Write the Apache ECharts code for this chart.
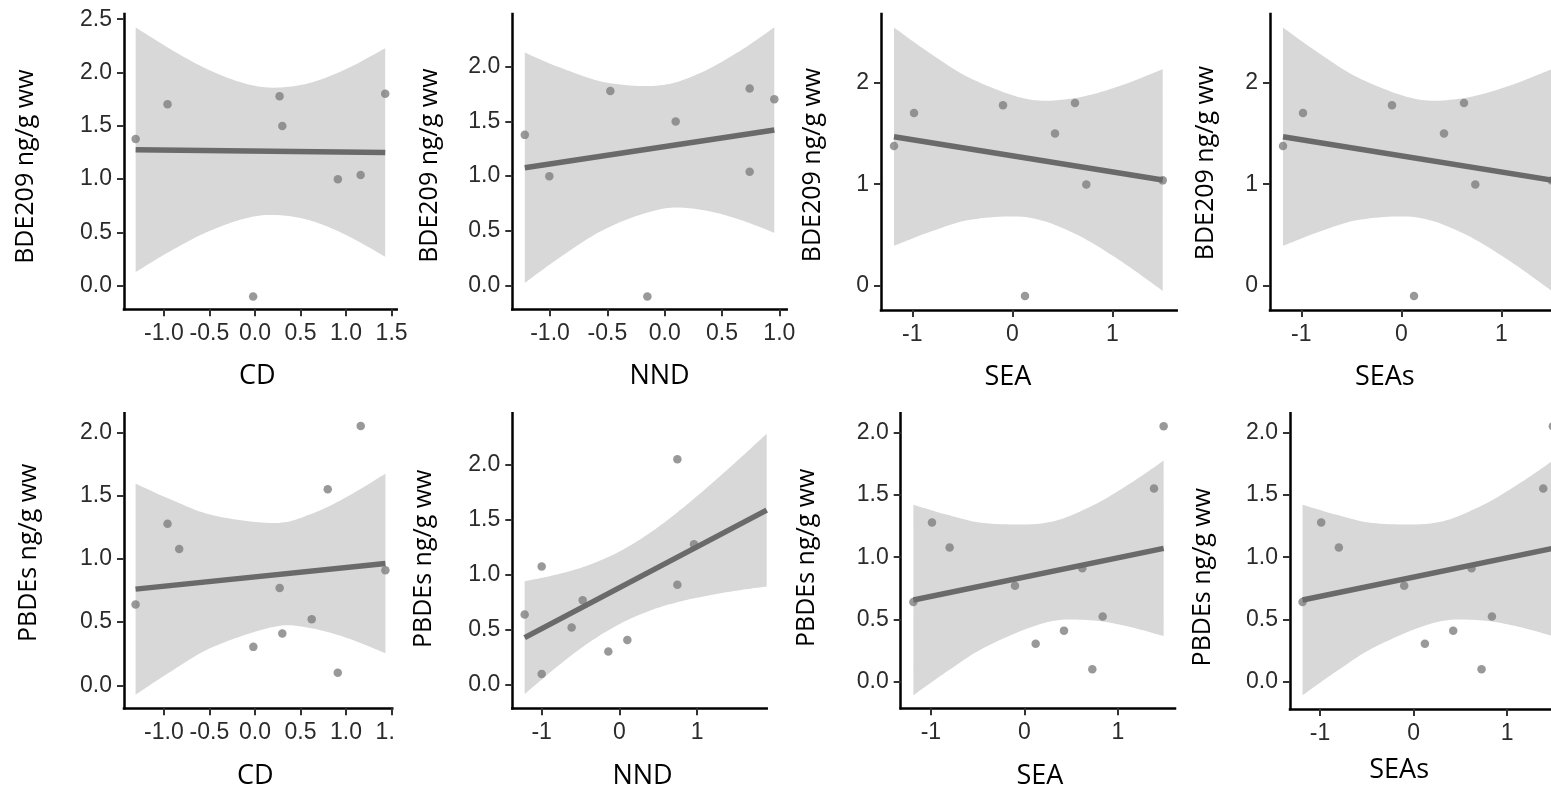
<!DOCTYPE html>
<html>
<head>
<meta charset="utf-8">
<script src="https://cdn.jsdelivr.net/npm/echarts@6/dist/echarts.min.js"></script>
<style>
html,body{margin:0;padding:0;background:#ffffff;}
#chart{width:1551px;height:795px;}
</style>
</head>
<body>
<div id="chart"></div>
<script>
// ---------- DATA ----------
// Top row: BDE209 (ng/g ww), 8 individuals
const bde209  = [1.376, 1.702, 1.778, 1.499, -0.102, 0.998, 1.038, 1.801];
const cdTop   = [-1.31, -0.96, 0.27, 0.30, -0.02, 0.91, 1.16, 1.43];
const nndTop  = [-1.22, 0.956, -0.474, 0.096, -0.151, -1.006, 0.741, 0.741];
const seaTop  = [-1.183, -0.983, -0.093, 0.427, 0.127, 0.74, 1.504, 0.627];
const seasTop = [-1.183, -0.983, -0.093, 0.427, 0.127, 0.74, 1.504, 0.627];

// Bottom row: PBDEs (ng/g ww), 11 individuals
const pbdes   = [0.64, 1.279, 1.078, 0.77, 0.304, 0.41, 0.523, 1.551, 2.052, 0.099, 0.911];
const cdBot   = [-1.311, -0.96, -0.832, 0.271, -0.018, 0.30, 0.623, 0.799, 1.161, 0.909, 1.432];
const nndBot  = [-1.219, 0.961, -1.0, -0.472, -0.142, 0.103, -0.614, null, 0.747, -1.0, 0.747];
const seaBot  = [-1.187, -0.988, -0.799, -0.1, 0.121, 0.424, 0.838, 1.387, 1.49, 0.727, 0.62];
const seasBot = [-1.187, -0.988, -0.799, -0.1, 0.121, 0.424, 0.838, 1.387, 1.49, 0.727, 0.62];

// Fitted lines (end points)
const fitCdTop  = [[-1.31, 1.276], [1.43, 1.25]];
const fitNndTop = [[-1.22, 1.075], [0.956, 1.42]];
const fitSeaTop = [[-1.183, 1.468], [1.504, 1.041]];
const fitCdBot  = [[-1.311, 0.761], [1.432, 0.964]];
const fitNndBot = [[-1.219, 0.43], [1.897, 1.59]];
const fitSeaBot = [[-1.187, 0.656], [1.49, 1.071]];

// Confidence bands: [x, lower, upper]
const bandCdTop  = [[-1.31,0.129,2.423],[-0.9,0.339,2.205],[-0.5,0.514,2.022],[-0.1,0.633,1.895],[0.22,0.664,1.858],[0.6,0.614,1.902],[1.0,0.476,2.032],[1.43,0.272,2.228]];
const bandNndTop = [[-1.22,0.021,2.129],[-0.9,0.265,1.987],[-0.5,0.525,1.853],[-0.04,0.695,1.829],[0.3,0.694,1.938],[0.65,0.602,2.14],[0.956,0.48,2.36]];
const bandSeaTop = [[-1.183,0.393,2.543],[-0.8,0.539,2.275],[-0.4,0.653,2.035],[0.146,0.674,1.84],[0.6,0.525,1.845],[1.05,0.266,1.96],[1.504,-0.051,2.133]];
const bandCdBot  = [[-1.311,-0.074,1.596],[-0.9,0.12,1.462],[-0.45,0.307,1.343],[0.216,0.464,1.284],[0.6,0.453,1.351],[1.0,0.377,1.487],[1.432,0.254,1.674]];
const bandNndBot = [[-1.219,-0.083,0.943],[-0.8,0.167,1.005],[-0.4,0.381,1.089],[0,0.553,1.213],[0.4,0.678,1.386],[0.8,0.762,1.6],[1.2,0.821,1.839],[1.6,0.867,2.091],[1.897,0.895,2.285]];
const bandSeaBot = [[-1.187,-0.109,1.421],[-0.8,0.096,1.336],[-0.4,0.284,1.272],[0.23,0.476,1.276],[0.7,0.494,1.404],[1.1,0.445,1.577],[1.49,0.366,1.776]];

// Tick values
const xTicksHalf  = [-1, -0.5, 0, 0.5, 1, 1.5];
const xTicksNnd   = [-1, -0.5, 0, 0.5, 1];
const xTicksUnit  = [-1, 0, 1];
const yTicksBde25 = [0, 0.5, 1, 1.5, 2, 2.5];
const yTicksBde20 = [0, 0.5, 1, 1.5, 2];
const yTicksBdeU  = [0, 1, 2];
const yTicksPbdes = [0, 0.5, 1, 1.5, 2];

const yNameTop = 'BDE209 ng/g ww';
const yNameBot = 'PBDEs ng/g ww';

// ---------- LAYOUT ----------
const panels = [
  {g:[124,14,272.7,295.3],   xr:[-1.438,1.556], yr:[-0.221,2.549], xs:cdTop,  ys:bde209, fit:fitCdTop,  band:bandCdTop,  xt:xTicksHalf, yt:yTicksBde25, xd:1, yd:1, xn:'CD',   yn:yNameTop, xGap:54, yGap:86, xShift:-3,  yShift:5},
  {g:[512.3,14,274.4,295.3], xr:[-1.329,1.064], yr:[-0.22,2.482],  xs:nndTop, ys:bde209, fit:fitNndTop, band:bandNndTop, xt:xTicksNnd,  yt:yTicksBde20, xd:1, yd:1, xn:'NND',  yn:yNameTop, xGap:54, yGap:70, xShift:10,  yShift:4},
  {g:[881,14,295.7,296],     xr:[-1.313,1.644], yr:[-0.239,2.677], xs:seaTop, ys:bde209, fit:fitSeaTop, band:bandSeaTop, xt:xTicksUnit, yt:yTicksBdeU,  xd:0, yd:0, xn:'SEA',  yn:yNameTop, xGap:54, yGap:56, xShift:-21, yShift:3},
  {g:[1270,14,295.7,296],    xr:[-1.313,1.644], yr:[-0.239,2.677], xs:seasTop,ys:bde209, fit:fitSeaTop, band:bandSeaTop, xt:xTicksUnit, yt:yTicksBdeU,  xd:0, yd:0, xn:'SEAs', yn:yNameTop, xGap:54, yGap:52, xShift:-33, yShift:1},
  {g:[124,413.3,272.7,295],  xr:[-1.438,1.556], yr:[-0.182,2.152], xs:cdBot,  ys:pbdes,  fit:fitCdBot,  band:bandCdBot,  xt:xTicksHalf, yt:yTicksPbdes, xd:1, yd:1, xn:'CD',   yn:yNameBot, xGap:55, yGap:83, xShift:-5,  yShift:-8},
  {g:[512.3,413.3,254.4,295],xr:[-1.378,1.897], yr:[-0.212,2.47],  xs:nndBot, ys:pbdes,  fit:fitNndBot, band:bandNndBot, xt:xTicksUnit, yt:yTicksPbdes, xd:0, yd:1, xn:'NND',  yn:yNameBot, xGap:55, yGap:76, xShift:3,   yShift:-2},
  {g:[900.7,413.3,274.3,295],xr:[-1.3226,1.6114],yr:[-0.214,2.156],xs:seaBot, ys:pbdes,  fit:fitSeaBot, band:bandSeaBot, xt:xTicksUnit, yt:yTicksPbdes, xd:0, yd:1, xn:'SEA',  yn:yNameBot, xGap:55, yGap:81, xShift:2,   yShift:-3},
  {g:[1290,413.3,274.3,295.7],xr:[-1.3215,1.612],yr:[-0.2195,2.156],xs:seasBot,ys:pbdes, fit:fitSeaBot, band:bandSeaBot, xt:xTicksUnit, yt:yTicksPbdes, xd:0, yd:1, xn:'SEAs', yn:yNameBot, xGap:48, yGap:75, xShift:-28, yShift:16}
];

const TITLE_FONT = '"Open Sans", "Noto Sans", sans-serif';
const TICK_FONT = '"Liberation Sans", Arial, sans-serif';
const BAND_COLOR = '#d8d8d8';
const POINT_COLOR = '#7f7f7f';
const LINE_COLOR = '#6a6a6a';

// Catmull-Rom smoothing in pixel space (rendering only)
function smoothPath(p) {
  const out = [];
  const n = p.length;
  for (let i = 0; i < n - 1; i++) {
    const p0 = p[Math.max(i - 1, 0)], p1 = p[i], p2 = p[i + 1], p3 = p[Math.min(i + 2, n - 1)];
    for (let s = 0; s < 12; s++) {
      const t = s / 12, t2 = t * t, t3 = t2 * t;
      const f = k => 0.5 * ((2 * p1[k]) + (-p0[k] + p2[k]) * t + (2 * p0[k] - 5 * p1[k] + 4 * p2[k] - p3[k]) * t2 + (-p0[k] + 3 * p1[k] - 3 * p2[k] + p3[k]) * t3);
      out.push([f(0), f(1)]);
    }
  }
  out.push(p[n - 1]);
  return out;
}

function makeAxis(isX, p, i) {
  const ticks = isX ? p.xt : p.yt;
  const dec = isX ? p.xd : p.yd;
  const sh = isX ? p.xShift : p.yShift;
  let pad;
  if (isX) pad = sh >= 0 ? [0, 0, 0, 2 * sh] : [0, -2 * sh, 0, 0];
  else pad = sh >= 0 ? [0, 2 * sh, 0, 0] : [0, 0, 0, -2 * sh];
  return {
    type: 'value',
    gridIndex: i,
    position: isX ? 'bottom' : 'left',
    min: isX ? p.xr[0] : p.yr[0],
    max: isX ? p.xr[1] : p.yr[1],
    axisLine: { show: true, onZero: false, lineStyle: { color: '#000', width: 2.5, cap: 'square' } },
    axisTick: { show: true, inside: false, length: 7, customValues: ticks, lineStyle: { color: '#333', width: 2 } },
    axisLabel: {
      show: true, customValues: ticks, margin: isX ? 13 : 12,
      fontSize: 23, fontFamily: TICK_FONT, color: '#2b2b2b',
      formatter: v => Number(v).toFixed(dec)
    },
    splitLine: { show: false },
    name: isX ? p.xn : p.yn,
    nameLocation: 'middle',
    nameGap: isX ? p.xGap : p.yGap,
    nameRotate: isX ? 0 : 90,
    nameTextStyle: { fontFamily: TITLE_FONT, fontSize: isX ? 27 : 25, color: '#000', padding: pad }
  };
}

const grids = [], xAxes = [], yAxes = [], series = [];
panels.forEach((p, i) => {
  grids.push({ left: p.g[0], top: p.g[1], width: p.g[2], height: p.g[3], containLabel: false, outerBoundsMode: 'none' });
  xAxes.push(makeAxis(true, p, i));
  yAxes.push(makeAxis(false, p, i));
  const band = p.band;
  series.push({
    type: 'custom', xAxisIndex: i, yAxisIndex: i, z: 1, silent: true, clip: true,
    data: [[band[0][0], band[0][1]]],
    encode: { x: 0, y: 1 },
    renderItem: function (params, api) {
      const up = band.map(b => api.coord([b[0], b[2]]));
      const lo = band.map(b => api.coord([b[0], b[1]]));
      const pts = smoothPath(up).concat(smoothPath(lo).reverse());
      return { type: 'polygon', shape: { points: pts }, style: { fill: BAND_COLOR } };
    }
  });
  const pts = [];
  p.xs.forEach((x, k) => { if (x !== null) pts.push([x, p.ys[k]]); });
  series.push({
    type: 'scatter', xAxisIndex: i, yAxisIndex: i, z: 2, silent: true,
    symbol: 'circle', symbolSize: 8.5, data: pts,
    itemStyle: { color: POINT_COLOR }
  });
  series.push({
    type: 'line', xAxisIndex: i, yAxisIndex: i, z: 3, silent: true,
    symbol: 'none', data: p.fit,
    lineStyle: { color: LINE_COLOR, width: 5.5 }
  });
});

const chart = echarts.init(document.getElementById('chart'), null, { renderer: 'canvas' });
chart.setOption({
  animation: false,
  backgroundColor: '#ffffff',
  grid: grids,
  xAxis: xAxes,
  yAxis: yAxes,
  series: series,
  graphic: [
    // the reference's lower-left panel is cropped just right of its axis end
    { type: 'rect', z: 100, shape: { x: 393.5, y: 700, width: 18, height: 60 }, style: { fill: '#ffffff' } }
  ]
});
</script>
</body>
</html>
